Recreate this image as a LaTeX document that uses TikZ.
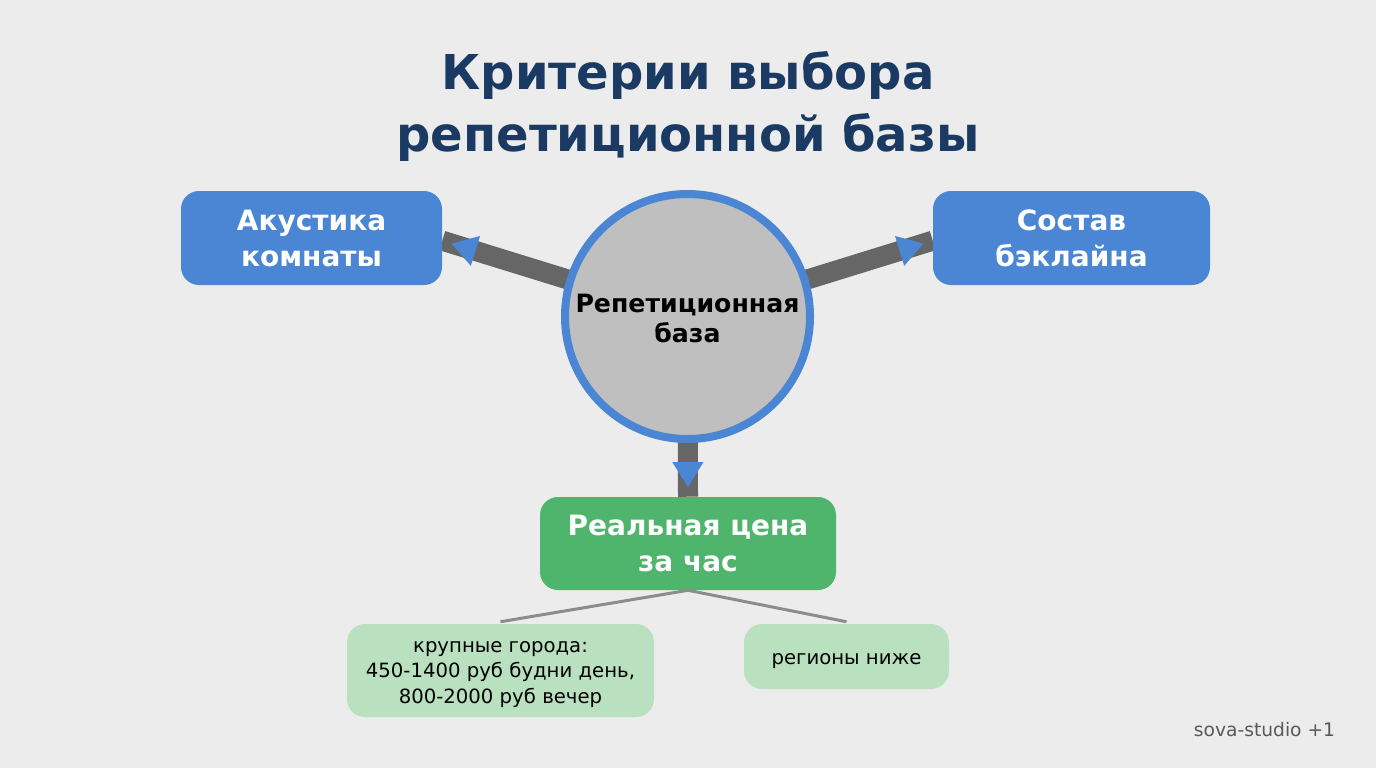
\documentclass[tikz,border=0pt]{standalone}
\usepackage{fontspec}
\setmainfont{DejaVu Sans}
\usetikzlibrary{arrows.meta,backgrounds,decorations.markings}

\definecolor{pagegray}{HTML}{ECECEC}
\definecolor{titleblue}{HTML}{1B3A63}
\definecolor{boxblue}{HTML}{4A86D4}
\definecolor{boxgreen}{HTML}{4FB56D}
\definecolor{boxlight}{HTML}{B9E0BF}
\definecolor{hubgray}{HTML}{BFBFBF}
\definecolor{linkgray}{HTML}{666666}
\definecolor{thingray}{HTML}{8C8C8C}

\def\px{.75pt} % one pixel of the reference
\newcommand{\pushdown}[1]{\rule{0pt}{#1}} % taller first line moves the text down

\tikzset{
    bigbox/.style={rounded corners=18*\px, text=white, align=center, inner sep=0pt,
        font=\fontsize{21pt}{27pt}\selectfont\bfseries},
    smallbox/.style={rounded corners=18*\px, fill=boxlight, text=black, align=center, inner sep=0pt,
        font=\fontsize{14.75pt}{18.8pt}\selectfont},
    thicklink/.style={draw=linkgray, line width=20*\px, postaction={decorate},
        decoration={markings, mark=at position -7pt with
            {\arrow[boxblue]{Triangle[length=19pt,width=22pt]}}}},
    thinlink/.style={draw=thingray, line width=3*\px},
}

\begin{document}
\begin{tikzpicture}[x=\px, y=-\px]
    \useasboundingbox (0,0) rectangle (1376,768);

    % Title
    \node (title) at (688,106.5) [text=titleblue, align=center, inner sep=0pt,
        font=\fontsize{36pt}{46.5pt}\selectfont\bfseries] {Критерии выбора\\репетиционной базы};

    % Center of the diagram
    \node (hub) at (687.5,316.5) [circle, fill=hubgray, draw=boxblue, line width=8*\px,
        minimum size=245*\px, inner sep=0pt, text=black, align=center,
        font=\fontsize{18.9pt}{22.5pt}\selectfont\bfseries] {\pushdown{17.5pt}Репетиционная\\база};

    % Three criteria
    \node (acoustics) at (311.5,238) [bigbox, fill=boxblue, minimum width=261*\px, minimum height=94*\px] {Акустика\\комнаты};
    \node (backline) at (1071.5,238) [bigbox, fill=boxblue, minimum width=277*\px, minimum height=94*\px] {Состав\\бэклайна};
    \node (price) at (688,543.5) [bigbox, fill=boxgreen, minimum width=296*\px, minimum height=93*\px] {Реальная цена\\за час};

    % Price details
    \node (cities) at (500.5,670.5) [smallbox, minimum width=307*\px, minimum height=93*\px] {\pushdown{14.25pt}крупные города:\\450-1400 руб будни день,\\800-2000 руб вечер};
    \node (regions) at (846.5,656.5) [smallbox, minimum width=205*\px, minimum height=65*\px] {\pushdown{14.5pt}регионы ниже};

    % Signature
    \node (sign) at (1264.5,730) [text=black!65, inner sep=0pt, font=\fontsize{14pt}{18pt}\selectfont] {sova-studio +1};

    % Page and connectors go behind the nodes
    \begin{scope}[on background layer]
        \fill[pagegray] (0,0) rectangle (1376,768);
        \draw[thicklink] (hub.center) -- ([yshift=-2pt]acoustics.east);
        \draw[thicklink] (hub.center) -- ([yshift=-2pt]backline.west);
        \draw[thicklink] (hub.center) -- (price.north);
    \end{scope}
    \draw[thinlink] (price.south) -- ([yshift=1.5pt]cities.north);
    \draw[thinlink] (price.south) -- ([yshift=1.5pt]regions.north);
\end{tikzpicture}
\end{document}
